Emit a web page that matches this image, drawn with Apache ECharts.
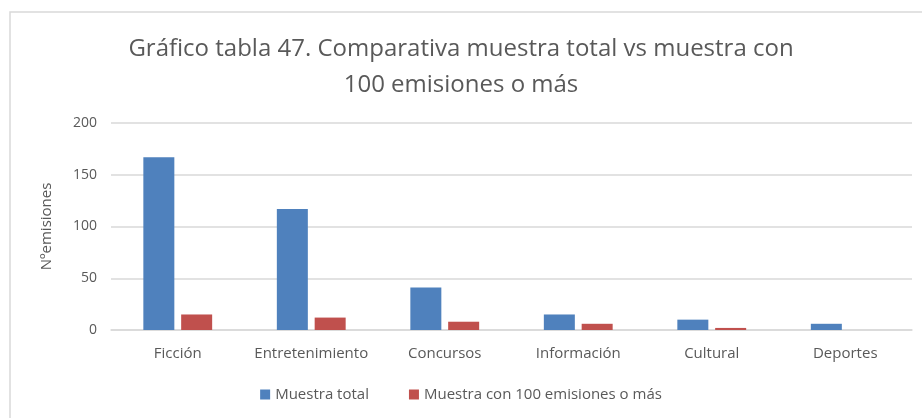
<!DOCTYPE html>
<html>
<head>
<meta charset="utf-8">
<script src="https://cdn.jsdelivr.net/npm/echarts@6/dist/echarts.min.js"></script>
<style>
  html, body { margin: 0; padding: 0; background: #ffffff; }
  #chart { width: 922px; height: 418px; }
</style>
</head>
<body>
<div id="chart"></div>
<script>
// Categorías de programa y número de emisiones por serie
const categories = ['Ficción', 'Entretenimiento', 'Concursos', 'Información', 'Cultural', 'Deportes'];
const muestraTotal = [167, 117, 41, 15, 10, 6];
const muestra100 = [15, 12, 8, 6, 2, 0];
const yTicks = [0, 50, 100, 150, 200];

const FONT = '"Open Sans", "DejaVu Sans", sans-serif';
const TEXT = '#595959';

const chart = echarts.init(document.getElementById('chart'), null, { renderer: 'canvas' });

chart.setOption({
  animation: false,
  backgroundColor: '#ffffff',
  graphic: [
    {
      // marco del gráfico (abierto a la derecha y abajo)
      type: 'polyline',
      silent: true,
      shape: { points: [[10, 430], [10, 12], [930, 12]] },
      style: { stroke: '#d9d9d9', lineWidth: 1.5, fill: null }
    },
    {
      type: 'text',
      left: 'center',
      top: 31,
      style: {
        text: 'Gráfico tabla 47. Comparativa muestra total vs muestra con\n100 emisiones o más',
        font: '24px ' + FONT,
        fill: TEXT,
        textAlign: 'center',
        lineHeight: 36
      }
    }
  ],
  legend: {
    bottom: 11,
    left: 'center',
    itemWidth: 10,
    itemHeight: 10,
    itemGap: 40,
    icon: 'rect',
    textStyle: { color: TEXT, fontSize: 15, fontFamily: FONT },
    data: ['Muestra total', 'Muestra con 100 emisiones o más']
  },
  grid: {
    left: 111,
    right: 10,
    top: 123,
    bottom: 88,
    containLabel: false
  },
  xAxis: {
    type: 'category',
    data: categories,
    axisLine: { show: true, lineStyle: { color: '#d9d9d9', width: 1.5 } },
    axisTick: { show: false },
    axisLabel: { color: TEXT, fontSize: 15, fontFamily: FONT, margin: 16, interval: 0 }
  },
  yAxis: {
    type: 'value',
    min: yTicks[0],
    max: yTicks[yTicks.length - 1],
    interval: 50,
    name: 'Nºemisiones',
    nameLocation: 'middle',
    nameGap: 57,
    nameRotate: 90,
    nameTextStyle: { color: TEXT, fontSize: 15, fontFamily: FONT },
    axisLine: { show: false },
    axisTick: { show: false },
    axisLabel: { color: TEXT, fontSize: 14, fontFamily: FONT, margin: 14 },
    splitLine: { lineStyle: { color: '#d9d9d9', width: 1.5 } }
  },
  series: [
    {
      name: 'Muestra total',
      type: 'bar',
      data: muestraTotal,
      barWidth: 31,
      barGap: '22%',
      itemStyle: { color: '#4f81bd' }
    },
    {
      name: 'Muestra con 100 emisiones o más',
      type: 'bar',
      data: muestra100,
      barWidth: 31,
      itemStyle: { color: '#c0504d' }
    }
  ]
});
</script>
</body>
</html>
